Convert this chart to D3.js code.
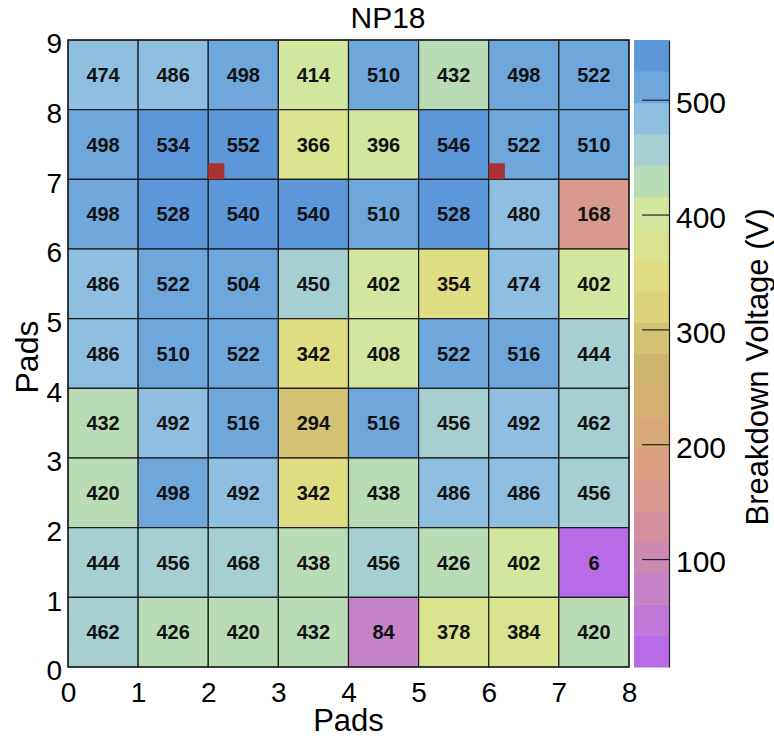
<!DOCTYPE html>
<html>
<head>
<meta charset="utf-8">
<script src="https://cdn.jsdelivr.net/npm/d3@7"></script>
<style>
  body { margin: 0; background: #fff; }
  svg { display: block; font-family: "Liberation Sans", Arial, sans-serif; }
</style>
</head>
<body>
<svg id="chart" width="774" height="739"></svg>
<script>
// pad values, rows from top (y = 8..9) down to bottom (y = 0..1), columns x = 0..7
const rows = [
  [474, 486, 498, 414, 510, 432, 498, 522],
  [498, 534, 552, 366, 396, 546, 522, 510],
  [498, 528, 540, 540, 510, 528, 480, 168],
  [486, 522, 504, 450, 402, 354, 474, 402],
  [486, 510, 522, 342, 408, 522, 516, 444],
  [432, 492, 516, 294, 516, 456, 492, 462],
  [420, 498, 492, 342, 438, 486, 486, 456],
  [444, 456, 468, 438, 456, 426, 402, 6],
  [462, 426, 420, 432, 84, 378, 384, 420]
];
const xTicks = [0, 1, 2, 3, 4, 5, 6, 7, 8];
const yTicks = [0, 1, 2, 3, 4, 5, 6, 7, 8, 9];
const zTicks = [100, 200, 300, 400, 500];
const zRange = [6, 552];
// small red markers (lower-left corner of pad)
const markers = [[2, 7], [6, 7]];

// 20 contour colours, low -> high
const palette = [
  "#b86be6", "#bf79d8", "#c684c8", "#cc89b2", "#d3909e",
  "#d8998e", "#dba07f", "#d8a877", "#d2b171", "#cdb56c",
  "#d3c273", "#dcd37b", "#dfdd82", "#dae48e", "#d2e69e",
  "#b9dbb6", "#a6cfd1", "#8ebee0", "#6da7dc", "#5b97d9"
];

const svg = d3.select("#chart");
const plotL = 68, plotR = 629, plotT = 40, plotB = 667;

const x = d3.scaleLinear().domain([0, 8]).range([plotL, plotR]);
const y = d3.scaleLinear().domain([0, 9]).range([plotB, plotT]);
const color = d3.scaleQuantize().domain(zRange).range(palette);

const cells = [];
rows.forEach((r, i) => r.forEach((v, j) => cells.push({ col: j, row: rows.length - 1 - i, v })));

const cell = svg.append("g")
  .selectAll("g")
  .data(cells)
  .join("g");

cell.append("rect")
    .attr("x", d => x(d.col))
    .attr("y", d => y(d.row + 1))
    .attr("width", d => x(d.col + 1) - x(d.col))
    .attr("height", d => y(d.row) - y(d.row + 1))
    .attr("fill", d => color(d.v))
    .attr("stroke", "#1a1a1a")
    .attr("stroke-width", 1.2);

cell.append("text")
    .attr("x", d => x(d.col + 0.5))
    .attr("y", d => y(d.row + 0.5))
    .attr("dy", "0.36em")
    .attr("text-anchor", "middle")
    .attr("font-weight", 700)
    .style("font-size", "20px")
    .style("fill", "#111")
    .text(d => d.v);

svg.append("g")
  .selectAll("rect")
  .data(markers)
  .join("rect")
    .attr("x", d => x(d[0]))
    .attr("y", d => y(d[1] + 0.23))
    .attr("width", d => x(d[0] + 0.23) - x(d[0]))
    .attr("height", d => y(d[1]) - y(d[1] + 0.23))
    .attr("fill", "#a83232");

svg.append("rect")
    .attr("x", plotL).attr("y", plotT)
    .attr("width", plotR - plotL).attr("height", plotB - plotT)
    .attr("fill", "none")
    .attr("stroke", "#1a1a1a")
    .attr("stroke-width", 1.2);

// axes
const xAxis = svg.append("g")
    .attr("transform", `translate(0,${plotB})`)
    .call(d3.axisBottom(x).tickValues(xTicks).tickFormat(d3.format("d")).tickSize(0).tickPadding(15));
const yAxis = svg.append("g")
    .attr("transform", `translate(${plotL},0)`)
    .call(d3.axisLeft(y).tickValues(yTicks).tickFormat(d3.format("d")).tickSize(0).tickPadding(6));
[xAxis, yAxis].forEach(a => {
  a.select(".domain").remove();
  a.selectAll("text").style("font-size", "28px").style("fill", "#000")
    .attr("font-family", "Liberation Sans, Arial, sans-serif");
});
yAxis.selectAll("text").attr("dy", "0.46em");

// colour bar
const barX = 634, barW = 35;
const z = d3.scaleLinear().domain(zRange).range([plotB, plotT]);
const step = (zRange[1] - zRange[0]) / palette.length;

svg.append("g")
  .selectAll("rect")
  .data(palette)
  .join("rect")
    .attr("x", barX)
    .attr("y", (c, i) => z(zRange[0] + (i + 1) * step))
    .attr("width", barW)
    .attr("height", (c, i) => z(zRange[0] + i * step) - z(zRange[0] + (i + 1) * step) + 0.5)
    .attr("fill", c => c);

const zAxis = svg.append("g")
    .attr("transform", `translate(${barX + barW},0)`)
    .call(d3.axisRight(z).tickValues(zTicks).tickSizeInner(-27).tickSizeOuter(0).tickPadding(7));
zAxis.select(".domain").attr("stroke", "#222").attr("stroke-width", 1.2);
zAxis.selectAll(".tick line").attr("stroke", "#222").attr("stroke-width", 1.2);
zAxis.selectAll("text")
    .attr("font-family", "Liberation Sans, Arial, sans-serif")
    .attr("dy", "0.43em")
    .style("font-size", "30px")
    .style("fill", "#000");

// titles
svg.append("text")
    .attr("x", 388).attr("y", 28)
    .attr("text-anchor", "middle")
    .style("font-size", "30px")
    .text("NP18");

svg.append("text")
    .attr("x", (plotL + plotR) / 2).attr("y", 731)
    .attr("text-anchor", "middle")
    .style("font-size", "31px")
    .text("Pads");

svg.append("text")
    .attr("transform", "translate(38,357) rotate(-90)")
    .attr("text-anchor", "middle")
    .style("font-size", "32px")
    .text("Pads");

svg.append("text")
    .attr("transform", "translate(768,367) rotate(-90)")
    .attr("text-anchor", "middle")
    .style("font-size", "31px")
    .text("Breakdown Voltage (V)");
</script>
</body>
</html>
